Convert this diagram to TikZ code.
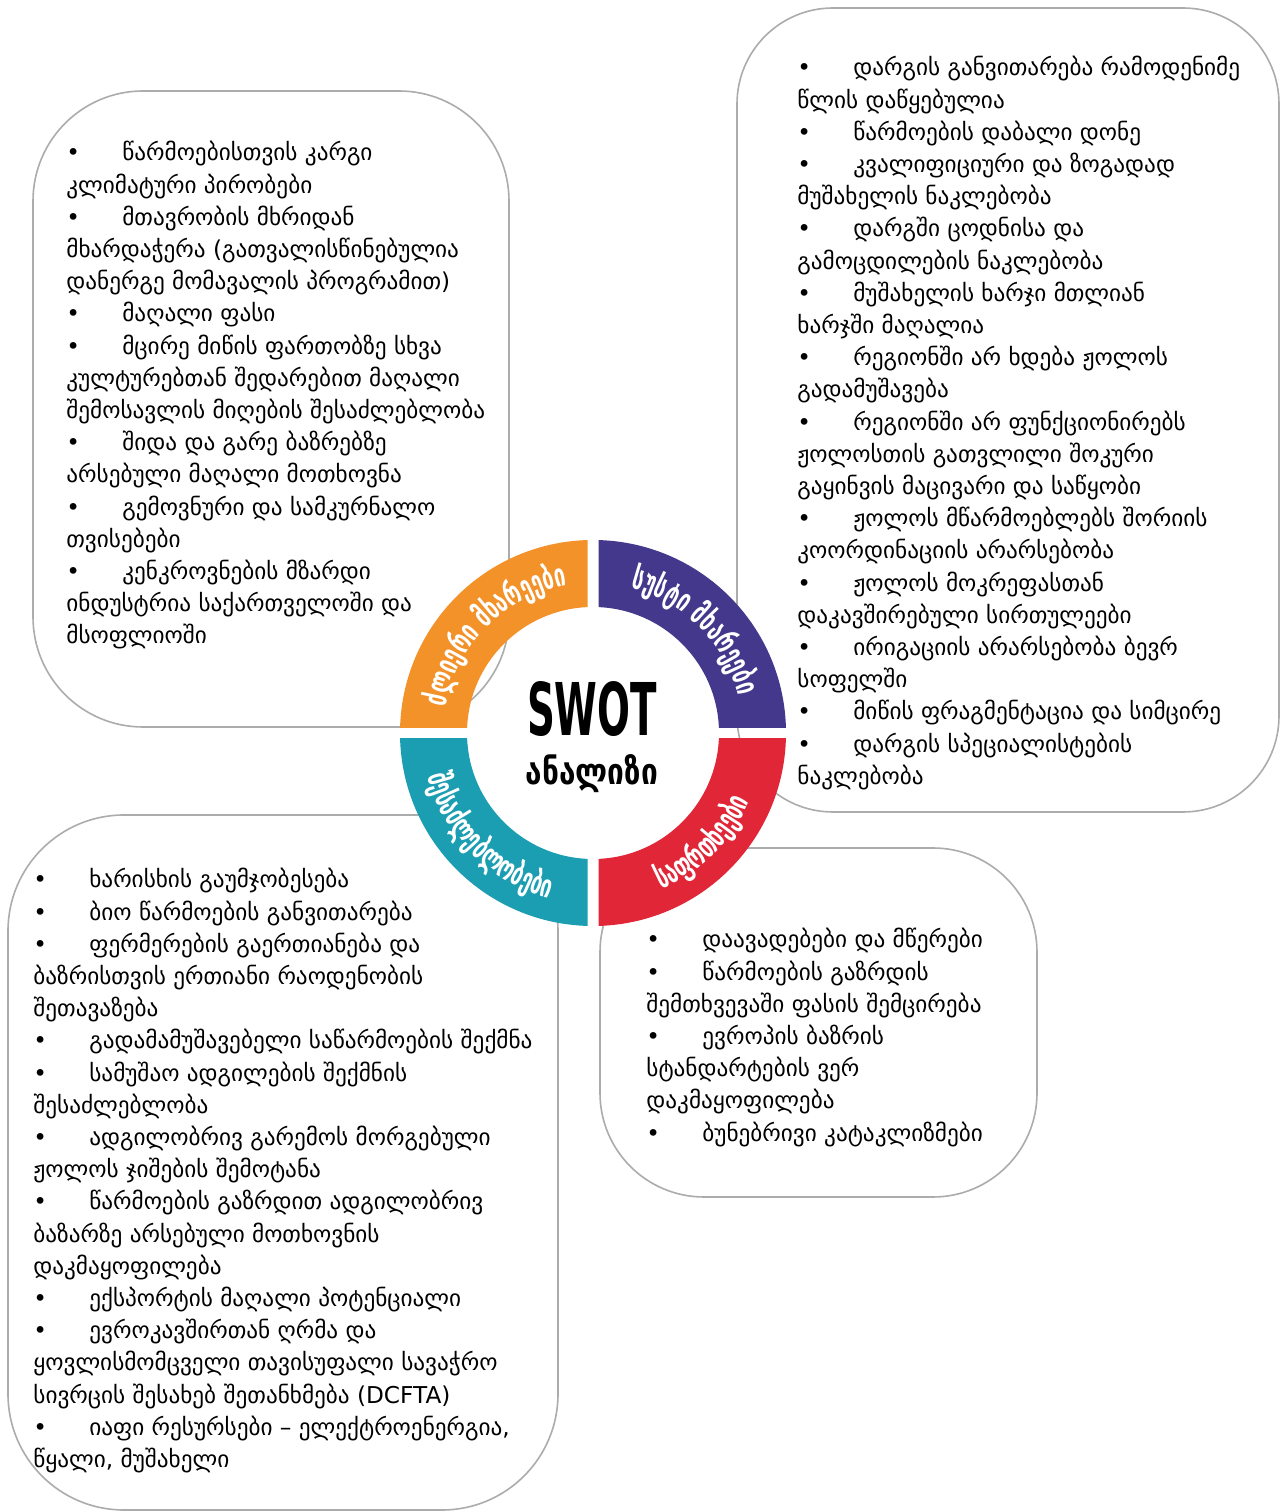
\documentclass[tikz,border=0pt]{standalone}
\usepackage{fontspec}
\usetikzlibrary{decorations.text}
\newfontfamily\geo{DejaVu Sans}
\newfontfamily\ringfont{DejaVu Sans Bold}[FakeStretch=0.62]
\newfontfamily\titlefont{DejaVu Sans Bold}
\definecolor{sorange}{RGB}{244,146,42}
\definecolor{spurple}{RGB}{68,56,140}
\definecolor{steal}{RGB}{28,158,178}
\definecolor{sred}{RGB}{225,38,56}
\definecolor{boxgray}{RGB}{172,172,172}
\newcommand\bul{\makebox[28pt][l]{•}}
\newcommand\bodyfont{\geo\fontsize{11.6}{16.1}\selectfont}
\newcommand\ringtext{\ringfont\fontsize{16}{18}\selectfont\color{white}}
\begin{document}
\begin{tikzpicture}[x=0.5pt,y=0.5pt,
  swotbox/.style={draw=boxgray, line width=0.8pt, fill=white},
  bodytext/.style={anchor=base west, inner sep=0pt, font=\bodyfont, text=black},
  ringlabel/.style={decorate, decoration={text along path, text align=center, text={|\ringtext|#1}}}
]
\useasboundingbox[fill=white] (0,0) rectangle (1284,1512);
% boxes
\draw[swotbox, rounded corners=55pt] (33,785) rectangle (509,1421);
\draw[swotbox, rounded corners=48pt] (737,700) rectangle (1279,1504);
\draw[swotbox, rounded corners=58pt] (8,2) rectangle (558,697);
\draw[swotbox, rounded corners=52pt] (600,315) rectangle (1037,664);
% texts
\node[bodytext] (tltext) at (66,1351) {\begin{tabular}[t]{@{}l@{}}
\bul წარმოებისთვის კარგი\\
კლიმატური პირობები\\
\bul მთავრობის მხრიდან\\
მხარდაჭერა (გათვალისწინებულია\\
დანერგე მომავალის პროგრამით)\\
\bul მაღალი ფასი\\
\bul მცირე მიწის ფართობზე სხვა\\
კულტურებთან შედარებით მაღალი\\
შემოსავლის მიღების შესაძლებლობა\\
\bul შიდა და გარე ბაზრებზე\\
არსებული მაღალი მოთხოვნა\\
\bul გემოვნური და სამკურნალო\\
თვისებები\\
\bul კენკროვნების მზარდი\\
ინდუსტრია საქართველოში და\\
მსოფლიოში
\end{tabular}};
\node[bodytext] (trtext) at (797,1436) {\begin{tabular}[t]{@{}l@{}}
\bul დარგის განვითარება რამოდენიმე\\
წლის დაწყებულია\\
\bul წარმოების დაბალი დონე\\
\bul კვალიფიციური და ზოგადად\\
მუშახელის ნაკლებობა\\
\bul დარგში ცოდნისა და\\
გამოცდილების ნაკლებობა\\
\bul მუშახელის ხარჯი მთლიან\\
ხარჯში მაღალია\\
\bul რეგიონში არ ხდება ჟოლოს\\
გადამუშავება\\
\bul რეგიონში არ ფუნქციონირებს\\
ჟოლოსთის გათვლილი შოკური\\
გაყინვის მაცივარი და საწყობი\\
\bul ჟოლოს მწარმოებლებს შორიის\\
კოორდინაციის არარსებობა\\
\bul ჟოლოს მოკრეფასთან\\
დაკავშირებული სირთულეები\\
\bul ირიგაციის არარსებობა ბევრ\\
სოფელში\\
\bul მიწის ფრაგმენტაცია და სიმცირე\\
\bul დარგის სპეციალისტების\\
ნაკლებობა
\end{tabular}};
\node[bodytext] (bltext) at (33,624) {\begin{tabular}[t]{@{}l@{}}
\bul ხარისხის გაუმჯობესება\\
\bul ბიო წარმოების განვითარება\\
\bul ფერმერების გაერთიანება და\\
ბაზრისთვის ერთიანი რაოდენობის\\
შეთავაზება\\
\bul გადამამუშავებელი საწარმოების შექმნა\\
\bul სამუშაო ადგილების შექმნის\\
შესაძლებლობა\\
\bul ადგილობრივ გარემოს მორგებული\\
ჟოლოს ჯიშების შემოტანა\\
\bul წარმოების გაზრდით ადგილობრივ\\
ბაზარზე არსებული მოთხოვნის\\
დაკმაყოფილება\\
\bul ექსპორტის მაღალი პოტენციალი\\
\bul ევროკავშირთან ღრმა და\\
ყოვლისმომცველი თავისუფალი სავაჭრო\\
სივრცის შესახებ შეთანხმება (DCFTA)\\
\bul იაფი რესურსები – ელექტროენერგია,\\
წყალი, მუშახელი
\end{tabular}};
\node[bodytext] (brtext) at (646,564) {\begin{tabular}[t]{@{}l@{}}
\bul დაავადებები და მწერები\\
\bul წარმოების გაზრდის\\
შემთხვევაში ფასის შემცირება\\
\bul ევროპის ბაზრის\\
სტანდარტების ვერ\\
დაკმაყოფილება\\
\bul ბუნებრივი კატაკლიზმები
\end{tabular}};
% ring
\coordinate (C) at (593,779);
\begin{scope}
  \clip (587.5,784.5) rectangle (380,990);
  \fill[sorange, even odd rule] (C) circle (193) (C) circle (126);
\end{scope}
\begin{scope}
  \clip (598.5,784.5) rectangle (800,990);
  \fill[spurple, even odd rule] (C) circle (193) (C) circle (126);
\end{scope}
\begin{scope}
  \clip (587.5,773.5) rectangle (380,570);
  \fill[steal, even odd rule] (C) circle (193) (C) circle (126);
\end{scope}
\begin{scope}
  \clip (598.5,773.5) rectangle (800,570);
  \fill[sred, even odd rule] (C) circle (193) (C) circle (126);
\end{scope}
\path[ringlabel={ძლიერი მხარეები}] (C) ++(178:150) arc[start angle=178, end angle=92, radius=150];
\path[ringlabel={სუსტი მხარეები}] (C) ++(88:150) arc[start angle=88, end angle=2, radius=150];
\path[ringlabel={შესაძლებლობები}] (C) ++(182:171) arc[start angle=182, end angle=268, radius=171];
\path[ringlabel={საფრთხეები}] (C) ++(272:171) arc[start angle=272, end angle=358, radius=171];
% title
\node[anchor=south, inner sep=0pt] (swot) at (592,775) {\resizebox{65pt}{27pt}{\titlefont SWOT}};
\node[anchor=south, inner sep=0pt] (analizi) at (592,719) {\resizebox{66pt}{15pt}{\titlefont ანალიზი}};
\end{tikzpicture}
\end{document}
